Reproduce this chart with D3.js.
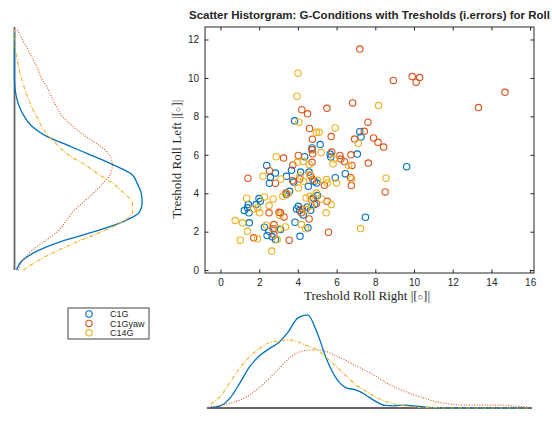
<!DOCTYPE html>
<html>

<head>
  <title>Scatter Historgram</title>
  <script src="https://cdn.jsdelivr.net/npm/d3@7"></script>
  <style type="text/css">
    body {
      margin: 0;
      background: #fff;
    }

    text {
      font-family: 'Liberation Sans', Arial, sans-serif;
      fill: #262626;
    }

    .latex {
      font-family: 'Liberation Serif', 'DejaVu Serif', serif;
    }

    .axis path {
      display: none;
    }

    .axis line {
      stroke: #262626;
    }
  </style>
</head>

<body>
  <div id="chartArea"></div>
  <script type="text/javascript">
    let groups = ['C1G', 'C1Gyaw', 'C14G'];
    let colors = ['#0072BD', '#D95319', '#EDB120'];
    let dashes = [null, '1,1.6', '4,1.6,1,1.6'];

    // Roll Right (x) and Roll Left (y) per group
    let c1gX = [4.35, 5.67, 5.70, 7.07, 2.39, 2.84, 2.58, 2.53, 3.41, 3.67, 3.78, 4.14, 4.58, 4.85, 4.97, 5.93, 6.45, 3.41, 3.57, 1.84, 1.44, 1.40, 1.99, 2.06, 4.54, 5.01, 4.80, 1.23, 1.47, 3.93, 4.09, 4.28, 4.66, 4.87, 4.02, 4.49, 1.49, 2.27, 2.50, 3.10, 3.85, 4.52, 7.49, 2.67, 2.84, 4.11, 2.41, 3.83, 7.20, 7.26, 5.15, 4.73, 9.62];
    let c1gY = [5.90, 6.04, 5.88, 6.04, 5.45, 5.05, 4.83, 4.52, 4.88, 5.19, 4.58, 5.10, 5.10, 4.62, 4.53, 4.81, 5.02, 3.93, 4.10, 3.41, 3.41, 3.24, 3.72, 3.58, 4.36, 3.88, 3.75, 3.10, 2.98, 3.18, 3.11, 2.87, 3.11, 3.41, 3.32, 3.29, 2.46, 2.23, 2.02, 2.11, 2.49, 2.20, 2.75, 1.73, 1.59, 1.76, 1.80, 7.77, 7.20, 6.93, 6.53, 6.36, 5.38];

    let c1gyawX = [3.26, 4.02, 4.73, 6.17, 6.74, 7.64, 3.74, 6.41, 6.79, 2.53, 1.42, 2.84, 3.73, 4.09, 4.66, 4.77, 5.37, 6.76, 6.72, 3.38, 4.71, 4.96, 5.51, 2.51, 3.02, 3.10, 3.28, 4.18, 4.23, 4.58, 2.72, 2.76, 5.58, 1.72, 2.76, 3.55, 6.22, 7.20, 4.20, 4.50, 5.50, 6.83, 4.60, 7.62, 7.43, 6.93, 4.75, 5.72, 4.73, 5.75, 4.76, 8.93, 9.91, 10.11, 10.29, 14.70, 13.33, 7.91, 8.14, 8.43, 8.51];
    let c1gyawY = [5.83, 5.97, 5.61, 5.97, 6.00, 5.57, 5.47, 5.64, 5.45, 5.17, 4.78, 4.52, 4.65, 4.74, 4.91, 4.71, 4.41, 4.40, 4.82, 4.01, 3.67, 3.46, 3.58, 2.98, 3.01, 2.98, 2.77, 2.98, 3.18, 2.66, 2.15, 2.37, 1.97, 1.68, 1.85, 1.56, 5.78, 11.50, 8.35, 8.13, 8.42, 8.70, 7.37, 7.70, 7.22, 6.82, 6.81, 6.95, 6.26, 6.14, 6.05, 9.87, 10.07, 9.78, 10.02, 9.25, 8.46, 6.88, 6.65, 6.40, 4.07];

    let c14gX = [2.88, 5.20, 3.97, 4.59, 5.86, 5.82, 6.62, 2.20, 3.12, 4.11, 4.28, 4.61, 5.01, 5.48, 5.53, 6.00, 6.78, 3.48, 3.22, 2.72, 2.27, 1.35, 1.92, 4.02, 4.63, 4.96, 4.42, 5.72, 5.22, 1.70, 2.03, 2.51, 3.07, 4.42, 4.70, 5.46, 0.76, 1.14, 1.39, 2.37, 3.02, 3.36, 4.18, 4.40, 7.24, 1.02, 1.91, 2.93, 2.65, 4.00, 3.95, 4.05, 4.95, 5.10, 5.93, 7.12, 4.28, 8.17, 8.55];
    let c14gY = [5.90, 6.12, 5.61, 5.50, 5.78, 5.54, 5.45, 4.88, 4.74, 4.91, 4.62, 4.97, 4.67, 4.71, 4.53, 4.53, 4.74, 3.98, 3.84, 3.70, 3.81, 3.74, 3.24, 4.27, 3.84, 4.01, 3.75, 3.41, 3.70, 3.18, 2.98, 3.36, 2.84, 3.15, 3.36, 2.98, 2.58, 2.46, 2.02, 2.34, 2.15, 2.25, 2.37, 2.15, 2.16, 1.56, 1.63, 1.59, 0.99, 10.25, 9.05, 7.70, 7.17, 7.17, 7.40, 6.60, 5.66, 8.56, 4.78];

    // marginal kernel densities
    let gridRight = d3.range(-0.5, 16.01, 0.5);
    let densRight = [
      [0.001, 0.006, 0.028, 0.069, 0.114, 0.144, 0.164, 0.181, 0.211, 0.250, 0.258, 0.208, 0.133, 0.081, 0.056, 0.050, 0.036, 0.019, 0.007, 0.006, 0.008, 0.006, 0.003, 0.001, 0, 0, 0, 0, 0, 0, 0, 0, 0, 0],
      [0.004, 0.007, 0.013, 0.022, 0.036, 0.056, 0.081, 0.108, 0.136, 0.153, 0.161, 0.161, 0.156, 0.144, 0.131, 0.117, 0.103, 0.089, 0.072, 0.058, 0.047, 0.036, 0.028, 0.019, 0.014, 0.010, 0.008, 0.008, 0.008, 0.008, 0.008, 0.006, 0.004, 0.002],
      [0.011, 0.033, 0.072, 0.111, 0.142, 0.164, 0.181, 0.186, 0.189, 0.183, 0.172, 0.161, 0.139, 0.114, 0.089, 0.064, 0.047, 0.031, 0.019, 0.011, 0.006, 0.003, 0.001, 0.001, 0, 0, 0, 0, 0, 0, 0, 0, 0, 0]
    ];
    let gridLeft = d3.range(0, 12.51, 0.5);
    let densLeft = [
      [0.004, 0.016, 0.047, 0.096, 0.163, 0.220, 0.255, 0.261, 0.259, 0.251, 0.239, 0.200, 0.155, 0.108, 0.063, 0.035, 0.020, 0.010, 0.004, 0.001, 0, 0, 0, 0, 0, 0],
      [0.008, 0.016, 0.035, 0.061, 0.088, 0.104, 0.118, 0.139, 0.161, 0.180, 0.196, 0.200, 0.194, 0.173, 0.143, 0.118, 0.098, 0.086, 0.076, 0.067, 0.055, 0.047, 0.037, 0.027, 0.016, 0.006],
      [0.018, 0.049, 0.086, 0.131, 0.178, 0.220, 0.241, 0.241, 0.224, 0.202, 0.171, 0.143, 0.110, 0.088, 0.069, 0.055, 0.045, 0.035, 0.027, 0.020, 0.014, 0.009, 0.005, 0.002, 0.001, 0]
    ];

    let xTicks = [0, 2, 4, 6, 8, 10, 12, 14, 16];
    let yTicks = [0, 2, 4, 6, 8, 10, 12];

    let pointsX = [c1gX, c1gyawX, c14gX];
    let pointsY = [c1gY, c1gyawY, c14gY];

    let W = 552, H = 423;
    let plot = { left: 205, right: 534, top: 27, bottom: 273 };

    let xScale = d3.scaleLinear()
      .domain([-0.8, 16.2])
      .range([plot.left, plot.right]);

    let yScale = d3.scaleLinear()
      .domain([-0.15, 12.65])
      .range([plot.bottom, plot.top]);

    let svg = d3.select('#chartArea').append('svg')
      .attr('width', W)
      .attr('height', H);

    // main scatter box
    svg.append('rect')
      .attr('x', plot.left)
      .attr('y', plot.top)
      .attr('width', plot.right - plot.left)
      .attr('height', plot.bottom - plot.top)
      .attr('fill', '#fff')
      .attr('stroke', '#262626')
      .attr('stroke-width', 1);

    let tick = 3.5;
    svg.append('g')
      .attr('class', 'axis')
      .attr('transform', `translate(0, ${plot.bottom})`)
      .call(d3.axisBottom(xScale).tickValues(xTicks).tickSizeInner(-tick).tickSizeOuter(0).tickPadding(6))
      .selectAll('text')
      .style('font-size', '10px')
      .style('font-family', "'Liberation Sans', Arial, sans-serif")
      .attr('fill', '#262626');

    svg.append('g')
      .attr('class', 'axis')
      .attr('transform', `translate(0, ${plot.top})`)
      .call(d3.axisTop(xScale).tickValues(xTicks).tickSizeInner(-tick).tickSizeOuter(0).tickFormat(''));

    svg.append('g')
      .attr('class', 'axis')
      .attr('transform', `translate(${plot.left}, 0)`)
      .call(d3.axisLeft(yScale).tickValues(yTicks).tickSizeInner(-tick).tickSizeOuter(0).tickPadding(6))
      .selectAll('text')
      .style('font-size', '10px')
      .style('font-family', "'Liberation Sans', Arial, sans-serif")
      .attr('fill', '#262626');

    svg.append('g')
      .attr('class', 'axis')
      .attr('transform', `translate(${plot.right}, 0)`)
      .call(d3.axisRight(yScale).tickValues(yTicks).tickSizeInner(-tick).tickSizeOuter(0).tickFormat(''));

    // points
    groups.forEach((g, i) => {
      let data = pointsX[i].map((x, j) => ({ x: x, y: pointsY[i][j] }));
      svg.append('g')
        .selectAll('circle')
        .data(data)
        .enter()
        .append('circle')
        .attr('cx', d => xScale(d.x))
        .attr('cy', d => yScale(d.y))
        .attr('r', 3.2)
        .attr('fill', 'none')
        .attr('stroke', colors[i])
        .attr('stroke-width', 1.1);
    });

    // title and labels
    svg.append('text')
      .attr('x', (plot.left + plot.right) / 2)
      .attr('y', 19)
      .attr('text-anchor', 'middle')
      .style('font-size', '11.5px')
      .style('font-weight', 'bold')
      .attr('fill', '#000')
      .text('Scatter Historgram: G-Conditions with Tresholds (i.errors) for Roll');

    // axis labels with a small open circle for the unit
    function latexLabel(sel, txt) {
      sel.append('tspan').text(txt + ' |[');
      sel.append('tspan').style('font-size', '9px').attr('dy', '-0.5').text('\u25CB');
      sel.append('tspan').attr('dy', '0.5').text(']|');
    }

    svg.append('text')
      .attr('class', 'latex')
      .attr('x', 367)
      .attr('y', 300)
      .attr('text-anchor', 'middle')
      .style('font-size', '13px')
      .attr('fill', '#444')
      .call(latexLabel, 'Treshold Roll Right');

    svg.append('text')
      .attr('class', 'latex')
      .attr('transform', 'translate(181, 159) rotate(-90)')
      .attr('text-anchor', 'middle')
      .style('font-size', '13px')
      .attr('fill', '#444')
      .call(latexLabel, 'Treshold Roll Left');

    // bottom marginal (Roll Right)
    let baseB = 408;
    let dScaleB = d3.scaleLinear().domain([0, 0.28]).range([baseB, baseB - 101]);
    let lineB = d3.line()
      .x(d => xScale(d.g))
      .y(d => dScaleB(d.v))
      .curve(d3.curveMonotoneX);

    svg.append('line')
      .attr('x1', plot.left + 2).attr('x2', plot.right - 2)
      .attr('y1', baseB).attr('y2', baseB)
      .attr('stroke', '#666')
      .attr('stroke-width', 1.8);

    // left marginal (Roll Left)
    let baseL = 14.5;
    let dScaleL = d3.scaleLinear().domain([0, 0.28]).range([baseL, baseL + 137]);
    let lineL = d3.line()
      .x(d => dScaleL(d.v))
      .y(d => yScale(d.g))
      .curve(d3.curveMonotoneY);

    svg.append('line')
      .attr('x1', baseL).attr('x2', baseL)
      .attr('y1', plot.top).attr('y2', plot.bottom - 3)
      .attr('stroke', '#666')
      .attr('stroke-width', 1.8);

    groups.forEach((g, i) => {
      let b = gridRight.map((x, j) => ({ g: x, v: densRight[i][j] }));
      let l = gridLeft.map((y, j) => ({ g: y, v: densLeft[i][j] }));
      [[b, lineB], [l, lineL]].forEach(([data, gen]) => {
        svg.append('path')
          .datum(data)
          .attr('d', gen)
          .attr('fill', 'none')
          .attr('stroke', colors[i])
          .attr('stroke-width', i === 0 ? 1.3 : 1.1)
          .attr('stroke-dasharray', dashes[i]);
      });
    });

    // legend
    let legend = svg.append('g').attr('transform', 'translate(68, 308)');
    legend.append('rect')
      .attr('width', 81)
      .attr('height', 31)
      .attr('fill', '#fff')
      .attr('stroke', '#444')
      .attr('stroke-width', 1);

    let items = legend.selectAll('g.item')
      .data(groups)
      .enter()
      .append('g')
      .attr('class', 'item')
      .attr('transform', (d, i) => `translate(0, ${6 + i * 9.4})`);

    items.append('circle')
      .attr('cx', 21)
      .attr('r', 3.2)
      .attr('fill', 'none')
      .attr('stroke', (d, i) => colors[i])
      .attr('stroke-width', 1.1);

    items.append('text')
      .attr('x', 42)
      .attr('dy', '0.35em')
      .style('font-size', '9px')
      .attr('fill', '#000')
      .text(d => d);
  </script>
</body>

</html>
